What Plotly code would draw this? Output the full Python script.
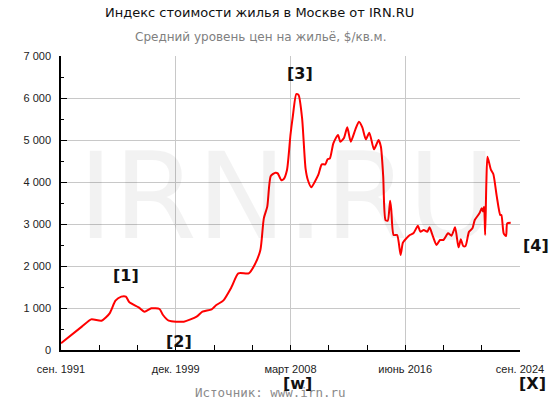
import plotly.graph_objects as go

# ---- data ----
months = [
    "1991-09", "1993-03", "1993-11", "1994-08", "1995-03", "1995-08", "1996-01", "1996-05",
    "1996-08", "1997-04", "1997-09", "1998-03", "1998-10", "1999-01", "1999-06", "2000-07",
    "2001-06", "2001-11", "2002-07", "2002-11", "2003-05", "2003-12", "2004-06", "2005-03",
    "2005-08", "2006-01", "2006-04", "2006-07", "2006-10", "2007-02", "2007-04", "2007-07",
    "2007-09", "2007-12", "2008-03", "2008-05", "2008-08", "2008-10", "2009-01", "2009-04",
    "2009-06", "2009-09", "2009-12", "2010-03", "2010-06", "2010-09", "2010-11", "2011-01",
    "2011-04", "2011-08", "2011-10", "2012-01", "2012-04", "2012-07", "2012-11", "2013-02",
    "2013-05", "2013-08", "2013-11", "2014-03", "2014-05", "2014-07", "2014-09", "2014-11",
    "2015-01", "2015-03", "2015-05", "2015-06", "2015-08", "2015-11", "2016-02", "2016-04",
    "2016-07", "2016-10", "2017-01", "2017-05", "2017-07", "2017-10", "2018-01", "2018-03",
    "2018-06", "2018-09", "2018-12", "2019-03", "2019-07", "2019-10", "2020-01", "2020-04",
    "2020-06", "2020-08", "2020-10", "2021-01", "2021-04", "2021-06", "2021-10", "2021-12",
    "2022-01", "2022-02", "2022-03", "2022-04", "2022-05", "2022-08", "2022-10", "2023-01",
    "2023-04", "2023-05", "2023-07", "2023-09", "2023-10", "2024-01",
]
price_usd_m2 = [
    159, 556, 730, 698, 873, 1175, 1270, 1270,
    1135, 1016, 913, 992, 976, 833, 698, 675,
    794, 913, 968, 1071, 1175, 1492, 1825, 1825,
    2024, 2381, 3135, 3413, 4143, 4222, 4206, 4048,
    4063, 4286, 5119, 5556, 6095, 6071, 5516, 4325,
    4048, 3873, 4008, 4167, 4421, 4421, 4540, 4563,
    4921, 5119, 4960, 5040, 5302, 4960, 5254, 5437,
    5302, 5016, 5175, 4778, 4881, 5000, 4841, 4127,
    3095, 3079, 3556, 3333, 2738, 2738, 2262, 2556,
    2659, 2738, 2778, 2960, 2817, 2857, 2817, 2921,
    2698, 2500, 2619, 2619, 2778, 2722, 2921, 2444,
    2635, 2476, 2476, 2817, 2897, 3095, 3254, 3373,
    3300, 3413, 2738, 3968, 4600, 4286, 4190, 3651,
    3214, 3214, 2778, 2714, 3016, 3032,
]

x_tick_vals = ["1991-09-01", "1999-12-01", "2008-03-01", "2016-06-01", "2024-09-01"]
x_tick_text = ["сен. 1991", "дек. 1999", "март 2008", "июнь 2016", "сен. 2024"]

title_text = "Индекс стоимости жилья в Москве от IRN.RU"
subtitle_text = "Средний уровень цен на жильё, $/кв.м."
source_text = "Источник: www.irn.ru"
marker_labels = ["[1]", "[2]", "[3]", "[4]", "[w]", "[X]"]

# ---- layout geometry (pixels) ----
W, H = 550, 400
L, R, T, B = 61, 520, 56, 350


def px(x):
    return (x - L) / (R - L)


def py(y):
    return (B - y) / (B - T)


fig = go.Figure()
fig.add_trace(go.Scatter(
    x=months, y=price_usd_m2, mode="lines",
    line=dict(color="#ff0000", width=2, shape="spline", smoothing=0.6),
    hoverinfo="x+y", showlegend=False,
))

grid = "#c8c8c8"
fig.update_layout(
    width=W, height=H,
    margin=dict(l=L, r=W - R, t=T, b=H - B, pad=0),
    paper_bgcolor="white", plot_bgcolor="white",
    separators=", ",
    font=dict(family="Liberation Sans, Arial, sans-serif", size=11, color="#222"),
    showlegend=False,
)
fig.update_xaxes(
    type="date",
    range=["1991-09-01", "2024-09-01"],
    tickmode="array", tickvals=x_tick_vals, ticktext=x_tick_text,
    showgrid=True, gridcolor=grid, gridwidth=1,
    showline=True, linecolor="black", linewidth=1.5,
    ticks="inside", ticklen=5, tickcolor="black",
    ticklabelstandoff=8, automargin=False,
    minor=dict(ticks="inside", ticklen=5, tickcolor="black", dtick="M33",
               tick0="1991-09-01", showgrid=False),
    zeroline=False,
)
fig.update_yaxes(
    range=[0, 7000], dtick=1000, tick0=0,
    separatethousands=True,
    showgrid=True, gridcolor=grid, gridwidth=1,
    showline=True, linecolor="black", linewidth=1.5,
    ticks="inside", ticklen=6, tickcolor="black",
    ticklabelstandoff=6, automargin=False,
    minor=dict(ticks="inside", ticklen=3, tickcolor="black", dtick=500, showgrid=False),
    zeroline=False,
)

ann = []
# watermark
ann.append(dict(text="IRN.RU", x=px(287), y=py(196), xref="paper", yref="paper",
                showarrow=False, xanchor="center", yanchor="middle",
                font=dict(family="DejaVu Sans", size=120, color="rgba(0,0,0,0.05)")))
# titles
ann.append(dict(text=title_text, x=px(259.5), y=py(12), xref="paper", yref="paper",
                showarrow=False, xanchor="center", yanchor="middle",
                font=dict(family="DejaVu Sans", size=13, color="#111")))
ann.append(dict(text=subtitle_text, x=px(260.5), y=py(37), xref="paper", yref="paper",
                showarrow=False, xanchor="center", yanchor="middle",
                font=dict(family="DejaVu Sans", size=12, color="#808080")))
ann.append(dict(text=source_text, x=px(270), y=py(392), xref="paper", yref="paper",
                showarrow=False, xanchor="center", yanchor="middle",
                font=dict(family="DejaVu Sans Mono", size=12.5, color="#8a8a8a")))
# bracket markers
marker_pos = [(126, 275), (179, 341), (300, 74), (535.5, 245.5), (297, 383), (532, 383)]
for lab, (mx, my) in zip(marker_labels, marker_pos):
    ann.append(dict(text="<b>" + lab + "</b>", x=px(mx), y=py(my), xref="paper", yref="paper",
                    showarrow=False, xanchor="center", yanchor="middle",
                    font=dict(family="DejaVu Sans", size=16, color="#111")))
fig.update_layout(annotations=ann)

fig.write_html("out.html", config={"displayModeBar": False},
               post_script="document.body.style.margin='0';")
